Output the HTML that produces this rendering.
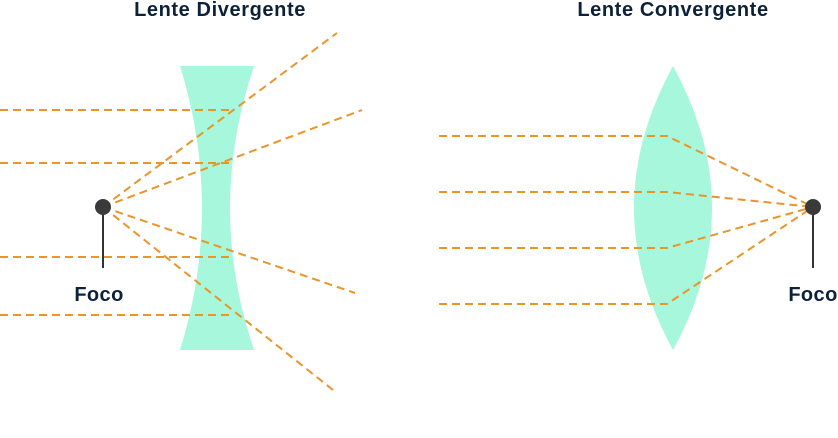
<!DOCTYPE html>
<html><head><meta charset="utf-8"><style>
html,body{margin:0;padding:0;background:#fff;}
svg{display:block;}
text{font-family:"Liberation Sans",sans-serif;font-weight:bold;fill:#0c2238;}
</style></head><body>
<svg width="838" height="438" viewBox="0 0 838 438">
  <g>
    <text x="220" y="16" font-size="20" letter-spacing="0.6" text-anchor="middle">Lente Divergente</text>
    <path d="M180 66 L254 66 Q206 208 254 350 L180 350 Q224 208 180 66 Z" fill="#a6f7dc"/>
    <g stroke="#e8952a" stroke-width="2" stroke-dasharray="8 5" fill="none">
      <line x1="0" y1="110" x2="230" y2="110"/>
      <line x1="0" y1="163" x2="230" y2="163"/>
      <line x1="0" y1="257" x2="232" y2="257"/>
      <line x1="0" y1="315" x2="230" y2="315"/>
      <line x1="103" y1="207" x2="337" y2="33"/>
      <line x1="103" y1="207" x2="362" y2="110"/>
      <line x1="103" y1="207" x2="355" y2="293"/>
      <line x1="103" y1="207" x2="333" y2="390"/>
    </g>
    <line x1="103" y1="207" x2="103" y2="268" stroke="#333" stroke-width="2"/>
    <circle cx="103" cy="207" r="8" fill="#3a3a3a"/>
    <text x="99" y="301" font-size="20" letter-spacing="0.4" text-anchor="middle">Foco</text>
  </g>
  <g>
    <text x="673" y="16" font-size="20" letter-spacing="0.6" text-anchor="middle">Lente Convergente</text>
    <path d="M673 66 Q595 208 673 350 Q751 208 673 66 Z" fill="#a6f7dc"/>
    <g stroke="#e8952a" stroke-width="2" stroke-dasharray="8 5" fill="none">
      <polyline points="439,136 667,136 813,207"/>
      <polyline points="439,192 667,192 813,207"/>
      <polyline points="439,248 667,248 813,207"/>
      <polyline points="439,304 667,304 813,207"/>
    </g>
    <line x1="813" y1="207" x2="813" y2="268" stroke="#333" stroke-width="2"/>
    <circle cx="813" cy="207" r="8" fill="#3a3a3a"/>
    <text x="813" y="301" font-size="20" letter-spacing="0.4" text-anchor="middle">Foco</text>
  </g>
</svg>
</body></html>
